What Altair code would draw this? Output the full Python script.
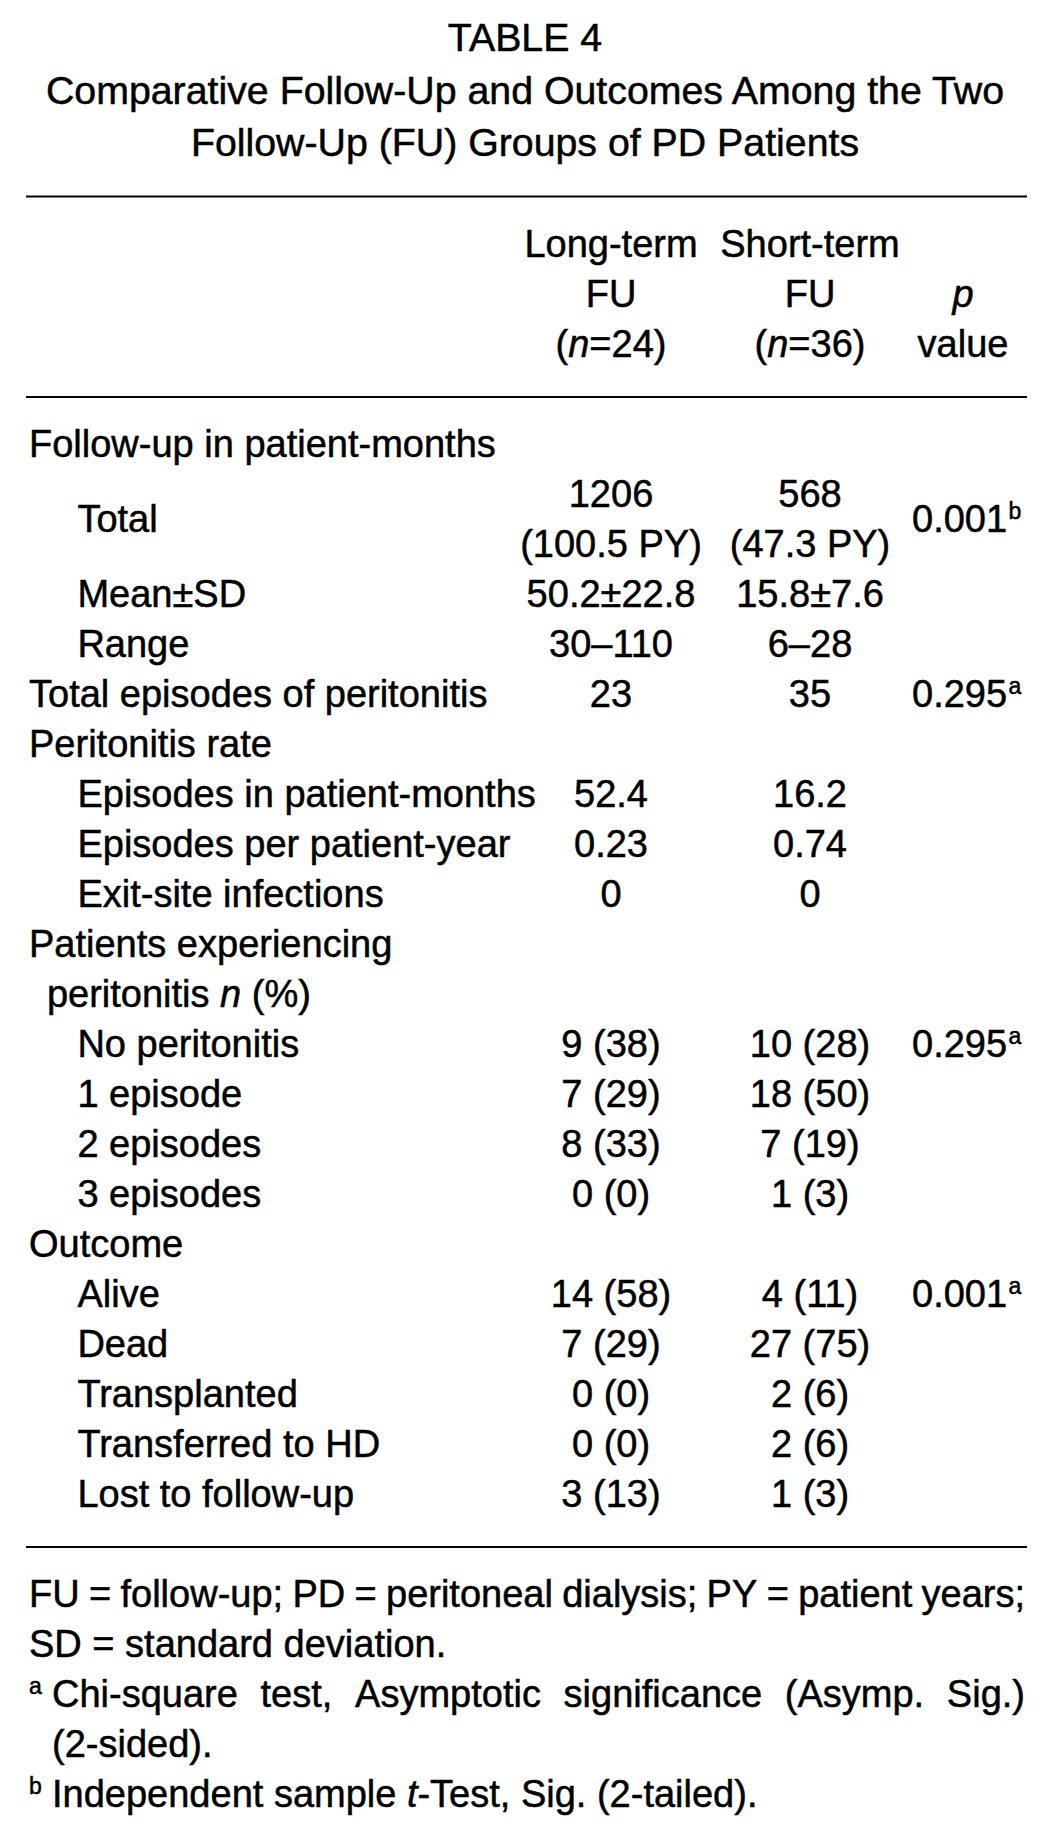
import altair as alt
import pandas as pd

# ---------------- data ----------------
title_lines = [
    "TABLE 4",
    "Comparative Follow-Up and Outcomes Among the Two",
    "Follow-Up (FU) Groups of PD Patients",
]
header_long = ["Long-term", "FU", "(*n*=24)"]
header_short = ["Short-term", "FU", "(*n*=36)"]
header_p = ["", "*p*", "value"]

row_labels = [
    "Follow-up in patient-months", "Total", "", "Mean±SD", "Range",
    "Total episodes of peritonitis", "Peritonitis rate",
    "Episodes in patient-months", "Episodes per patient-year",
    "Exit-site infections", "Patients experiencing", "peritonitis *n* (%)",
    "No peritonitis", "1 episode", "2 episodes", "3 episodes", "Outcome",
    "Alive", "Dead", "Transplanted", "Transferred to HD", "Lost to follow-up",
]
row_levels = [0, 1, 1, 1, 1, 0, 0, 1, 1, 1, 0, 0.37, 1, 1, 1, 1, 0, 1, 1, 1, 1, 1]
row_spans = [1, 2, 0, 1, 1, 1, 1, 1, 1, 1, 1, 1, 1, 1, 1, 1, 1, 1, 1, 1, 1, 1]
long_term = [
    "", "1206", "(100.5 PY)", "50.2±22.8", "30–110", "23", "", "52.4", "0.23",
    "0", "", "", "9 (38)", "7 (29)", "8 (33)", "0 (0)", "", "14 (58)", "7 (29)",
    "0 (0)", "0 (0)", "3 (13)",
]
short_term = [
    "", "568", "(47.3 PY)", "15.8±7.6", "6–28", "35", "", "16.2", "0.74",
    "0", "", "", "10 (28)", "18 (50)", "7 (19)", "1 (3)", "", "4 (11)", "27 (75)",
    "2 (6)", "2 (6)", "1 (3)",
]
p_values = [
    "", "0.001", "", "", "", "0.295", "", "", "", "", "", "", "0.295", "", "",
    "", "", "0.001", "", "", "", "",
]
p_notes = [
    "", "b", "", "", "", "a", "", "", "", "", "", "", "a", "", "",
    "", "", "a", "", "", "", "",
]
foot_marks = ["", "", "a", "", "b"]
foot_texts = [
    "FU = follow-up; PD = peritoneal dialysis; PY = patient years;",
    "SD = standard deviation.",
    "Chi-square test, Asymptotic significance (Asymp. Sig.)",
    "(2-sided).",
    "Independent sample *t*-Test, Sig. (2-tailed).",
]
foot_justified = [True, False, True, False, False]
foot_indented = [False, False, True, True, True]

# ---------------- layout ----------------
FONT = "Liberation Sans"
PAGE_W, PAGE_H = 1032, 1812
ROW0_BASE, ROW_STEP = 457.0, 50.0      # baseline pixel of body row 0, row pitch
BODY = 38
TITLE = 39.3
SUP = 23
X_LABEL0, X_INDENT = 29.0, 48.4
X_COL1, X_COL2, X_COL3 = 611.0, 810.0, 963.0
X_P = 912.0
X_FOOT, X_FOOT_TEXT = 29.0, 52.0
X_RIGHT = 1025.0
RULE_X1, RULE_X2 = 26.0, 1027.0

W = {" ": 278, "!": 278, "%": 889, "(": 333, ")": 333, ",": 278, "-": 333,
     ".": 278, ":": 278, ";": 278, "=": 584, "±": 584, "–": 556,
     "A": 667, "B": 667, "C": 722, "D": 722, "E": 667, "F": 611, "G": 778,
     "H": 722, "I": 278, "J": 500, "K": 667, "L": 556, "M": 833, "N": 722,
     "O": 778, "P": 667, "Q": 778, "R": 722, "S": 667, "T": 611, "U": 722,
     "V": 667, "W": 944, "X": 667, "Y": 667, "Z": 611,
     "a": 556, "b": 556, "c": 500, "d": 556, "e": 556, "f": 278, "g": 556,
     "h": 556, "i": 222, "j": 222, "k": 500, "l": 222, "m": 833, "n": 556,
     "o": 556, "p": 556, "q": 556, "r": 333, "s": 500, "t": 278, "u": 556,
     "v": 500, "w": 722, "x": 500, "y": 500, "z": 500}


def tw(s, size):
    return sum(W.get(c, 556) for c in s) * size / 1000.0


def parse(s):
    parts = s.split("*")
    return [(p, i % 2 == 1) for i, p in enumerate(parts) if p]


records = []


def add(s, x, r, size, align="left", sup=False):
    if not s:
        return
    segs = parse(s)
    if len(segs) == 1 and not segs[0][1]:
        records.append(dict(x=x, r=r, text=segs[0][0], size=size,
                            align=align, italic=False, sup=sup))
        return
    total = sum(tw(t, size) for t, _ in segs)
    x0 = x - total / 2 if align == "center" else (x - total if align == "right" else x)
    for t, it in segs:
        lead = len(t) - len(t.lstrip(" "))
        body = t.strip(" ")
        if body:
            records.append(dict(x=x0 + tw(" " * lead, size), r=r, text=body,
                                size=size, align="left", italic=it, sup=sup))
        x0 += tw(t, size)


def add_justified(s, x0, x1, r, size):
    words = s.split(" ")
    widths = [sum(tw(t, size) for t, _ in parse(w)) for w in words]
    gap = (x1 - x0 - sum(widths)) / max(len(words) - 1, 1)
    x = x0
    for w, wd in zip(words, widths):
        add(w, x, r, size)
        x += wd + gap


def px_to_row(p):
    return (p - ROW0_BASE) / ROW_STEP


# title
title_rows = [px_to_row(51 + 52.5 * i) for i in range(len(title_lines))]
for t, r in zip(title_lines, title_rows):
    add(t, 525.0, r, TITLE, "center")

# header
header_rows = [-4, -3, -2]
for i, r in enumerate(header_rows):
    add(header_long[i], X_COL1, r, BODY, "center")
    add(header_short[i], X_COL2, r, BODY, "center")
    add(header_p[i], X_COL3, r, BODY, "center")

# body
for i in range(len(row_labels)):
    span = row_spans[i]
    r_lab = i + (span - 1) / 2.0
    add(row_labels[i], X_LABEL0 + X_INDENT * row_levels[i], r_lab, BODY)
    add(long_term[i], X_COL1, i, BODY, "center")
    add(short_term[i], X_COL2, i, BODY, "center")
    if p_values[i]:
        add(p_values[i], X_P, r_lab, BODY)
        add(p_notes[i], X_P + tw(p_values[i], BODY) + 1.5, r_lab, SUP, sup=True)

n_body = len(row_labels)
# footnotes
for j, (m, t) in enumerate(zip(foot_marks, foot_texts)):
    r = n_body + 1 + j
    xt = X_FOOT_TEXT if foot_indented[j] else X_FOOT
    if m:
        add(m, X_FOOT, r, SUP, sup=True)
    if foot_justified[j]:
        add_justified(t, xt, X_RIGHT, r, BODY)
    else:
        add(t, xt, r, BODY)

df = pd.DataFrame(records)

rules = pd.DataFrame({
    "x1": [RULE_X1] * 3,
    "x2": [RULE_X2] * 3,
    "r": [px_to_row(196.5), px_to_row(397.0), px_to_row(1547.0)],
})

xs = alt.Scale(domain=[8, 8 + PAGE_W], nice=False, zero=False)
ys = alt.Scale(domain=[px_to_row(8), px_to_row(8 + PAGE_H)], reverse=True,
               nice=False, zero=False)


def text_layer(sub, align, italic, sup):
    return alt.Chart(sub).mark_text(
        align=align, baseline="alphabetic", font=FONT,
        fontStyle="italic" if italic else "normal",
        dy=-13 if sup else 0, color="#000000",
        stroke="#000000", strokeWidth=0.5,
    ).encode(
        x=alt.X("x:Q", scale=xs, axis=None),
        y=alt.Y("r:Q", scale=ys, axis=None),
        text="text:N",
        size=alt.Size("size:Q", scale=None, legend=None),
    )


layers = [
    alt.Chart(rules).mark_rule(strokeWidth=2, color="#000000").encode(
        x=alt.X("x1:Q", scale=xs, axis=None),
        x2="x2:Q",
        y=alt.Y("r:Q", scale=ys, axis=None),
    )
]
for (align, italic, sup), sub in df.groupby(["align", "italic", "sup"]):
    layers.append(text_layer(sub.reset_index(drop=True), align, bool(italic), bool(sup)))

chart = alt.layer(*layers).properties(
    width=PAGE_W, height=PAGE_H, autosize="none", padding=0,
    background="white",
).configure_view(stroke=None)

chart.save("out.html", embed_options={"renderer": "svg", "actions": False})
